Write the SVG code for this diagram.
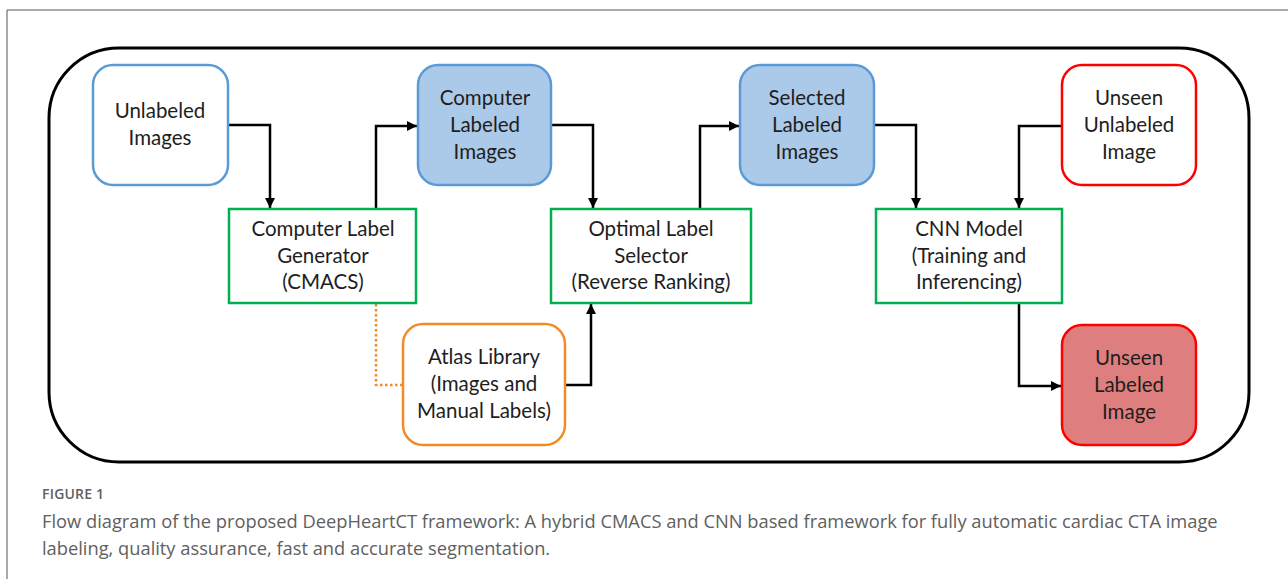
<svg xmlns="http://www.w3.org/2000/svg" width="1288" height="579" viewBox="0 0 1288 579">
  <defs>
    <marker id="arrow" viewBox="0 0 10 10" refX="10" refY="5" markerWidth="10" markerHeight="10" markerUnits="userSpaceOnUse" orient="auto">
      <path d="M0,0 L10,5 L0,10 Z" fill="#000"/>
    </marker>
    <style>
      .lbl { font-family: Lato, "Liberation Sans", sans-serif; font-size: 20.5px; fill: #1e1e1e; text-anchor: middle; }
      .blueo { fill: #fff; stroke: #5b9bd5; stroke-width: 2.5; }
      .bluef { fill: #abc9e8; stroke: #5b9bd5; stroke-width: 2.5; }
      .green { fill: #fff; stroke: #00b050; stroke-width: 2.5; }
      .redo { fill: #fff; stroke: #ff0000; stroke-width: 2.5; }
      .redf { fill: #df7e7e; stroke: #ff0000; stroke-width: 2.5; }
      .orange { fill: #fff; stroke: #f28c28; stroke-width: 2.5; }
      .edge { fill: none; stroke: #000; stroke-width: 2.5; }
      .cap { font-family: "Open Sans", Lato, sans-serif; fill: #606060; }
    </style>
  </defs>

  <rect width="1288" height="579" fill="#fff"/>
  <!-- page frame -->
  <path d="M7,579 V10 H1288" fill="none" stroke="#555" stroke-width="1"/>

  <!-- outer container -->
  <rect x="49" y="48" width="1200" height="414" rx="70" ry="70" fill="none" stroke="#000" stroke-width="3"/>

  <g id="connectors">
    <path class="edge" d="M228,125 H270 V208" marker-end="url(#arrow)"/>
    <path class="edge" d="M376,209 V126 H417" marker-end="url(#arrow)"/>
    <path class="edge" d="M551,125 H593 V208" marker-end="url(#arrow)"/>
    <path class="edge" d="M700,209 V126 H739" marker-end="url(#arrow)"/>
    <path class="edge" d="M874,125 H916 V208" marker-end="url(#arrow)"/>
    <path class="edge" d="M1062,126 H1019 V208" marker-end="url(#arrow)"/>
    <path class="edge" d="M1019,303 V386 H1061" marker-end="url(#arrow)"/>
    <path class="edge" d="M565,385 H591 V304" marker-end="url(#arrow)"/>
    <path d="M376,304 V385 H403" fill="none" stroke="#f28c28" stroke-width="2.5" stroke-dasharray="2.5 2.5"/>
  </g>

  <g id="unlabeled-images">
    <rect class="blueo" x="93" y="65" width="135" height="120" rx="20"/>
    <text class="lbl" x="160" y="118">Unlabeled</text>
    <text class="lbl" x="160" y="145">Images</text>
  </g>

  <g id="label-generator">
    <rect class="green" x="229" y="209" width="187" height="94"/>
    <text class="lbl" x="323" y="236">Computer Label</text>
    <text class="lbl" x="323" y="263">Generator</text>
    <text class="lbl" x="323" y="289">(CMACS)</text>
  </g>

  <g id="computer-labeled-images">
    <rect class="bluef" x="418" y="65" width="133" height="120" rx="20"/>
    <text class="lbl" x="485" y="105">Computer</text>
    <text class="lbl" x="485" y="132">Labeled</text>
    <text class="lbl" x="485" y="159">Images</text>
  </g>

  <g id="label-selector">
    <rect class="green" x="551" y="209" width="200" height="94"/>
    <text class="lbl" x="651" y="236">Optimal Label</text>
    <text class="lbl" x="651" y="263">Selector</text>
    <text class="lbl" x="651" y="289">(Reverse Ranking)</text>
  </g>

  <g id="atlas-library">
    <rect class="orange" x="403" y="324" width="162" height="121" rx="20"/>
    <text class="lbl" x="484" y="364">Atlas Library</text>
    <text class="lbl" x="484" y="391">(Images and</text>
    <text class="lbl" x="484" y="418">Manual Labels)</text>
  </g>

  <g id="selected-labeled-images">
    <rect class="bluef" x="740" y="65" width="134" height="120" rx="20"/>
    <text class="lbl" x="807" y="105">Selected</text>
    <text class="lbl" x="807" y="132">Labeled</text>
    <text class="lbl" x="807" y="159">Images</text>
  </g>

  <g id="cnn-model">
    <rect class="green" x="876" y="209" width="186" height="94"/>
    <text class="lbl" x="969" y="236">CNN Model</text>
    <text class="lbl" x="969" y="263">(Training and</text>
    <text class="lbl" x="969" y="289">Inferencing)</text>
  </g>

  <g id="unseen-unlabeled-image">
    <rect class="redo" x="1062" y="65" width="134" height="120" rx="20"/>
    <text class="lbl" x="1129" y="105">Unseen</text>
    <text class="lbl" x="1129" y="132">Unlabeled</text>
    <text class="lbl" x="1129" y="159">Image</text>
  </g>

  <g id="unseen-labeled-image">
    <rect class="redf" x="1062" y="325" width="134" height="120" rx="20"/>
    <text class="lbl" x="1129" y="365">Unseen</text>
    <text class="lbl" x="1129" y="392">Labeled</text>
    <text class="lbl" x="1129" y="419">Image</text>
  </g>

  <!-- caption -->
  <g id="caption">
    <text class="cap" x="42" y="499" font-size="14" font-weight="600" letter-spacing="0.2">FIGURE 1</text>
    <text class="cap" x="42" y="528" font-size="18.3">Flow diagram of the proposed DeepHeartCT framework: A hybrid CMACS and CNN based framework for fully automatic cardiac CTA image</text>
    <text class="cap" x="42" y="555" font-size="18.3">labeling, quality assurance, fast and accurate segmentation.</text>
  </g>
</svg>
